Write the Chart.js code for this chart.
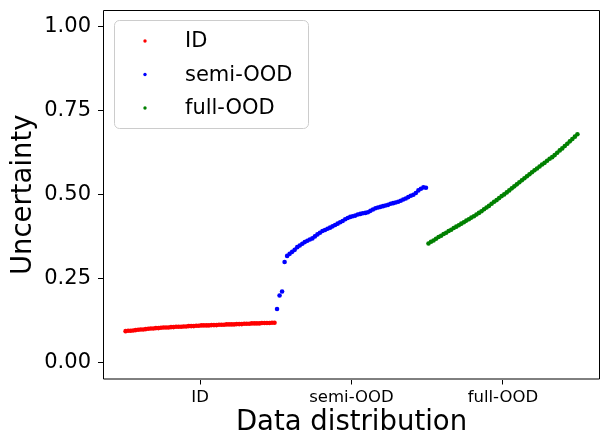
<!DOCTYPE html>
<html>
<head>
<meta charset="utf-8">
<script src="https://cdn.jsdelivr.net/npm/chart.js@4.4.1/dist/chart.umd.min.js"></script>
<style>
  body { margin: 0; background: #fff; }
  canvas { display: block; }
</style>
</head>
<body>
<canvas id="myChart" width="608" height="447"></canvas>
<script>
let categories = ['ID', 'semi-OOD', 'full-OOD'];
let colors = ['#ff0000', '#0000ff', '#008000'];

// uncertainty per sample, sorted within each group
let idValues = [
    0.094, 0.095, 0.095, 0.096, 0.097, 0.098, 0.099, 0.099, 0.100, 0.101,
    0.102, 0.102, 0.103, 0.103, 0.104, 0.105, 0.105, 0.105, 0.106, 0.106,
    0.107, 0.107, 0.107, 0.108, 0.108, 0.109, 0.109, 0.109, 0.110, 0.110,
    0.111, 0.111, 0.111, 0.111, 0.112, 0.112, 0.112, 0.113, 0.113, 0.113,
    0.114, 0.114, 0.114, 0.114, 0.115, 0.115, 0.115, 0.116, 0.116, 0.116,
    0.117, 0.117, 0.117, 0.117, 0.118, 0.118, 0.118, 0.118, 0.119, 0.119
];
let semiValues = [
    0.160, 0.200, 0.212, 0.300, 0.318, 0.324, 0.330, 0.336, 0.344, 0.349,
    0.354, 0.359, 0.363, 0.367, 0.370, 0.376, 0.382, 0.387, 0.392, 0.395,
    0.399, 0.402, 0.406, 0.410, 0.414, 0.418, 0.422, 0.427, 0.431, 0.434,
    0.436, 0.438, 0.441, 0.443, 0.445, 0.446, 0.448, 0.452, 0.456, 0.460,
    0.462, 0.464, 0.466, 0.468, 0.470, 0.473, 0.475, 0.477, 0.479, 0.482,
    0.486, 0.489, 0.493, 0.497, 0.500, 0.505, 0.513, 0.518, 0.522, 0.521
];
let fullValues = [
    0.355, 0.360, 0.364, 0.369, 0.374, 0.378, 0.383, 0.387, 0.392, 0.396,
    0.401, 0.405, 0.409, 0.414, 0.418, 0.423, 0.427, 0.432, 0.436, 0.441,
    0.446, 0.451, 0.457, 0.462, 0.467, 0.473, 0.479, 0.484, 0.490, 0.496,
    0.501, 0.507, 0.513, 0.519, 0.525, 0.531, 0.537, 0.543, 0.549, 0.555,
    0.561, 0.567, 0.573, 0.578, 0.584, 0.590, 0.595, 0.601, 0.607, 0.612,
    0.618, 0.625, 0.632, 0.638, 0.645, 0.652, 0.659, 0.666, 0.673, 0.680
];
let yTicks = [0, 0.25, 0.5, 0.75, 1.0];

let groups = [idValues, semiValues, fullValues];

// sample index runs on across the groups
let datasets = [];
let xTicks = [];
let offset = 0;
groups.forEach((vals, g) => {
    datasets.push({
        label: categories[g],
        data: vals.map((v, i) => ({ x: offset + i, y: v })),
        backgroundColor: colors[g],
        borderWidth: 0,
        pointRadius: 2.3,
        pointHoverRadius: 2.3
    });
    xTicks.push(offset + (vals.length - 1) / 2);
    offset += vals.length;
});
let lastX = offset - 1;

Chart.defaults.font.family = 'DejaVu Sans';
Chart.defaults.color = '#000';

// box round the plot area + matplotlib style legend top left
const overlay = {
    id: 'overlay',
    afterDraw(chart) {
        let ctx = chart.ctx;
        let a = chart.chartArea;
        ctx.save();
        ctx.strokeStyle = '#000';
        ctx.lineWidth = 1;
        ctx.beginPath();
        ctx.rect(a.left + 0.5, a.top + 0.5, a.right - a.left - 1, a.bottom - a.top - 1);
        ctx.stroke();

        let x = 114, y = 20, w = 194, h = 108;
        ctx.beginPath();
        ctx.roundRect(x + 0.5, y + 0.5, w, h, 5);
        ctx.fillStyle = 'rgba(255,255,255,0.8)';
        ctx.fill();
        ctx.strokeStyle = '#cccccc';
        ctx.stroke();
        ctx.font = '21px "DejaVu Sans"';
        ctx.textBaseline = 'middle';
        chart.data.datasets.forEach((ds, i) => {
            let rowY = 41 + i * 33.5;
            ctx.beginPath();
            ctx.arc(145, rowY, 1.7, 0, Math.PI * 2);
            ctx.fillStyle = ds.backgroundColor;
            ctx.fill();
            ctx.fillStyle = '#000';
            ctx.fillText(ds.label, 185, rowY + 1);
        });
        ctx.restore();
    }
};

let ctx = document.getElementById('myChart').getContext('2d');
let myChart = new Chart(ctx, {
    type: 'scatter',
    data: { datasets: datasets },
    options: {
        responsive: false,
        animation: false,
        devicePixelRatio: 1,
        layout: { padding: { left: 0, top: 10, right: 8, bottom: 0 } },
        plugins: {
            legend: { display: false },
            tooltip: { enabled: false }
        },
        scales: {
            x: {
                type: 'linear',
                min: -0.05 * lastX,
                max: lastX * 1.05,
                afterFit: scale => {
                    scale.height = 67.5;
                    scale.paddingLeft = 0;
                    scale.paddingRight = 0;
                },
                afterBuildTicks: scale => {
                    scale.ticks = xTicks.map(v => ({ value: v }));
                },
                ticks: {
                    autoSkip: false,
                    maxRotation: 0,
                    padding: 3,
                    font: { size: 16.5 },
                    callback: (value, index) => categories[index]
                },
                grid: { drawOnChartArea: false, color: '#000', tickLength: 5 },
                border: { display: false },
                title: {
                    display: true,
                    text: 'Data distribution',
                    font: { size: 27.5 },
                    padding: { top: 0, bottom: 8 }
                }
            },
            y: {
                min: -0.05,
                max: 1.05,
                afterFit: scale => {
                    scale.width = 103;
                    scale.paddingTop = 0;
                    scale.paddingBottom = 0;
                },
                afterBuildTicks: scale => {
                    scale.ticks = yTicks.map(v => ({ value: v }));
                },
                ticks: {
                    padding: 7,
                    font: { size: 21 },
                    callback: value => value.toFixed(2)
                },
                grid: { drawOnChartArea: false, color: '#000', tickLength: 5 },
                border: { display: false },
                title: {
                    display: true,
                    text: 'Uncertainty',
                    font: { size: 27.5 },
                    padding: { top: 7, bottom: 0 }
                }
            }
        }
    },
    plugins: [overlay]
});
</script>
</body>
</html>
